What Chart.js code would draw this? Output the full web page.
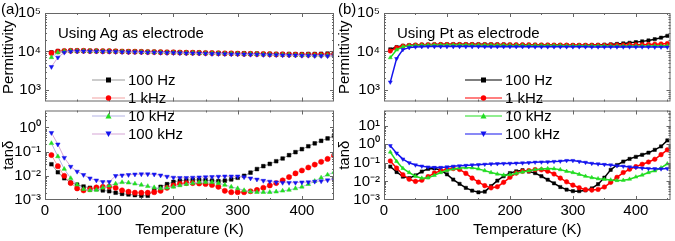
<!DOCTYPE html>
<html>
<head>
<meta charset="utf-8">
<script src="https://cdn.jsdelivr.net/npm/chart.js@4.4.0/dist/chart.umd.min.js"></script>
<style>
body { margin: 0; width: 675px; height: 241px; position: relative; overflow: hidden; background: #fff;
       font-family: Arial, "Liberation Sans", sans-serif; }
.box { position: absolute; }
.txt { position: absolute; font-size: 15px; line-height: 17px; color: #000; white-space: nowrap; }
.leg { position: absolute; height: 17px; display: flex; align-items: center; font-size: 15px; color: #000; white-space: nowrap; z-index: 5; }
.leg svg { margin-right: 3px; }
</style>
</head>
<body>
<div class="box" style="left:0;top:0;width:340px;height:106px"><canvas id="aTop"></canvas></div>
<div class="box" style="left:0;top:106px;width:340px;height:135px"><canvas id="aBot"></canvas></div>
<div class="box" style="left:336px;top:0;width:339px;height:106px"><canvas id="bTop"></canvas></div>
<div class="box" style="left:336px;top:106px;width:339px;height:135px"><canvas id="bBot"></canvas></div>

<div class="txt" style="left:1px;top:0px">(a)</div>
<div class="txt" style="left:338px;top:0px">(b)</div>
<div class="txt" style="left:58px;top:24px">Using Ag as electrode</div>
<div class="txt" style="left:397px;top:24px">Using Pt as electrode</div>
<div id="legA"></div>
<div id="legB"></div>

<script>
// temperatures (K)
const temps = [10, 20, 30, 40, 50, 60, 70, 80, 90, 100, 110, 120, 130, 140, 150, 160, 170, 180, 190, 200,
  210, 220, 230, 240, 250, 260, 270, 280, 290, 300, 310, 320, 330, 340, 350, 360, 370, 380, 390, 400,
  410, 420, 430, 440, 450];
const freqs = ["100 Hz", "1 kHz", "10 kHz", "100 kHz"];
const permTicks = [1e3, 1e4, 1e5];
const tanTicksA = [1e-3, 1e-2, 1e-1, 1];
const tanTicksB = [1e-3, 1e-2, 1e-1, 1, 10];
const xTicks = [0, 100, 200, 300, 400];

// (a) Ag electrode - permittivity
const epsA_100Hz = [9500, 10200, 10400, 10500, 10500, 10500, 10400, 10400, 10300, 10300, 10200, 10100, 10000, 10000, 9900,
  9800, 9800, 9700, 9600, 9600, 9500, 9400, 9400, 9300, 9200, 9200, 9100, 9000, 9000, 8900, 8900, 8800, 8800, 8700, 8700,
  8600, 8600, 8600, 8500, 8500, 8600, 8600, 8700, 8800, 9000];
const epsA_1kHz = [9100, 10000, 10300, 10400, 10400, 10400, 10300, 10300, 10200, 10200, 10100, 10000, 9900, 9900, 9800,
  9700, 9700, 9600, 9500, 9500, 9400, 9300, 9300, 9200, 9100, 9100, 9000, 8900, 8900, 8800, 8700, 8700, 8600, 8600, 8500,
  8400, 8400, 8300, 8300, 8200, 8200, 8200, 8200, 8200, 8300];
const epsA_10kHz = [7000, 9400, 10100, 10300, 10300, 10300, 10200, 10200, 10100, 10100, 10000, 9900, 9800, 9800, 9700,
  9600, 9600, 9500, 9400, 9400, 9300, 9200, 9200, 9100, 9000, 9000, 8900, 8800, 8800, 8700, 8600, 8600, 8500, 8400, 8400,
  8300, 8200, 8200, 8100, 8000, 8000, 7900, 7900, 7900, 7900];
const epsA_100kHz = [4000, 7000, 9400, 10000, 10100, 10100, 10000, 10000, 9900, 9900, 9800, 9700, 9600, 9600, 9500,
  9400, 9400, 9300, 9200, 9200, 9100, 9000, 9000, 8900, 8800, 8700, 8700, 8600, 8500, 8500, 8400, 8300, 8300, 8200, 8100,
  8100, 8000, 7900, 7900, 7800, 7800, 7700, 7700, 7600, 7600];

// (a) Ag electrode - loss tangent
const tanA_100Hz = [0.030, 0.014, 0.0079, 0.0052, 0.0043, 0.0036, 0.0032, 0.0028, 0.0025, 0.0023, 0.0020, 0.0018, 0.0017,
  0.0016, 0.0015, 0.0015, 0.0025, 0.0035, 0.0045, 0.0056, 0.0063, 0.0066, 0.0068, 0.0068, 0.0066, 0.0063, 0.0060, 0.0063,
  0.0071, 0.0083, 0.010, 0.0135, 0.019, 0.025, 0.031, 0.040, 0.052, 0.071, 0.095, 0.126, 0.166, 0.22, 0.28, 0.35, 0.44];
const tanA_1kHz = [0.072, 0.025, 0.010, 0.0050, 0.0030, 0.0025, 0.0028, 0.0033, 0.0035, 0.0036, 0.0032, 0.0025, 0.0022,
  0.0020, 0.0020, 0.0020, 0.0021, 0.0024, 0.0032, 0.0040, 0.0047, 0.0050, 0.0050, 0.0048, 0.0046, 0.0042, 0.0035, 0.0024,
  0.0021, 0.0021, 0.0021, 0.0023, 0.0026, 0.0032, 0.0040, 0.0050, 0.0065, 0.0089, 0.0126, 0.0166, 0.022, 0.029, 0.038,
  0.050, 0.069];
const tanA_10kHz = [0.22, 0.063, 0.019, 0.0079, 0.0043, 0.0028, 0.0025, 0.0026, 0.0032, 0.0039, 0.0047, 0.0054, 0.0052,
  0.0047, 0.0042, 0.0037, 0.0033, 0.0030, 0.0032, 0.0035, 0.0040, 0.0045, 0.0050, 0.0054, 0.0055, 0.0054, 0.0050, 0.0042,
  0.0035, 0.0030, 0.0025, 0.0022, 0.0021, 0.0021, 0.0021, 0.0022, 0.0024, 0.0026, 0.0030, 0.0035, 0.0045, 0.0060, 0.0083,
  0.011, 0.014];
const tanA_100kHz = [0.60, 0.20, 0.056, 0.024, 0.015, 0.011, 0.0079, 0.0065, 0.0056, 0.0056, 0.010, 0.0105, 0.011, 0.0115,
  0.0117, 0.0117, 0.0115, 0.0105, 0.0093, 0.0085, 0.0083, 0.0083, 0.0085, 0.0087, 0.0089, 0.0091, 0.0093, 0.0095, 0.0095,
  0.0095, 0.0089, 0.0079, 0.0071, 0.0063, 0.0058, 0.0054, 0.0052, 0.0052, 0.0052, 0.0054, 0.0055, 0.0058, 0.0060, 0.0066,
  0.0071];

// (b) Pt electrode - permittivity
const epsB_100Hz = [11400, 13000, 14000, 14500, 14800, 15000, 15100, 15200, 15300, 15300, 15400, 15400, 15400, 15400, 15400,
  15300, 15300, 15200, 15200, 15100, 15000, 15000, 14900, 14900, 14800, 14800, 14700, 14700, 14600, 14600, 14600, 14600,
  14700, 14800, 15000, 15300, 15700, 16200, 16800, 17500, 18300, 19300, 20800, 22800, 25500];
const epsB_1kHz = [10300, 12500, 13800, 14300, 14600, 14800, 14900, 15000, 15100, 15100, 15100, 15100, 15100, 15100, 15000,
  15000, 15000, 14900, 14900, 14900, 14800, 14800, 14800, 14700, 14700, 14700, 14600, 14600, 14600, 14500, 14500, 14500,
  14500, 14500, 14500, 14600, 14600, 14700, 14800, 14900, 15000, 15200, 15400, 15700, 16000];
const epsB_10kHz = [6900, 11000, 13300, 14000, 14300, 14500, 14600, 14700, 14700, 14700, 14700, 14700, 14700, 14600, 14600,
  14600, 14500, 14500, 14500, 14400, 14400, 14400, 14300, 14300, 14300, 14200, 14200, 14200, 14100, 14100, 14100, 14000,
  14000, 14000, 14000, 13900, 13900, 13900, 13900, 13900, 13900, 13900, 14000, 14000, 14100];
const epsB_100kHz = [1600, 6500, 11200, 12600, 13100, 13300, 13400, 13400, 13400, 13400, 13400, 13400, 13400, 13400, 13400,
  13300, 13300, 13300, 13300, 13300, 13300, 13300, 13300, 13200, 13200, 13200, 13200, 13200, 13200, 13200, 13200, 13200,
  13100, 13100, 13100, 13100, 13100, 13100, 13100, 13100, 13100, 13100, 13000, 13000, 13000];

// (b) Pt electrode - loss tangent
const tanB_100Hz = [0.063, 0.032, 0.018, 0.015, 0.021, 0.034, 0.047, 0.050, 0.041, 0.024, 0.0126, 0.0074, 0.0045, 0.0032,
  0.0026, 0.0028, 0.0056, 0.011, 0.019, 0.028, 0.035, 0.040, 0.034, 0.028, 0.019, 0.0123, 0.0079, 0.0050, 0.0036, 0.0030,
  0.0030, 0.0033, 0.0042, 0.0071, 0.016, 0.042, 0.076, 0.117, 0.162, 0.21, 0.27, 0.35, 0.50, 0.76, 1.6];
const tanB_1kHz = [0.126, 0.052, 0.023, 0.013, 0.010, 0.0115, 0.018, 0.028, 0.037, 0.045, 0.049, 0.044, 0.027, 0.015,
  0.0091, 0.0059, 0.0045, 0.0052, 0.0089, 0.0166, 0.028, 0.035, 0.038, 0.043, 0.042, 0.035, 0.025, 0.015, 0.0095, 0.0063,
  0.0046, 0.0036, 0.0034, 0.0037, 0.0050, 0.0089, 0.0166, 0.030, 0.045, 0.062, 0.083, 0.11, 0.155, 0.275, 0.50];
const tanB_10kHz = [0.38, 0.12, 0.050, 0.030, 0.019, 0.015, 0.0155, 0.021, 0.030, 0.039, 0.047, 0.052, 0.055, 0.054, 0.047,
  0.038, 0.030, 0.025, 0.022, 0.023, 0.027, 0.032, 0.037, 0.043, 0.047, 0.049, 0.048, 0.043, 0.035, 0.030, 0.024, 0.019,
  0.016, 0.014, 0.0129, 0.012, 0.0112, 0.0115, 0.0132, 0.0174, 0.022, 0.030, 0.037, 0.054, 0.089];
const tanB_100kHz = [0.83, 0.33, 0.158, 0.10, 0.076, 0.066, 0.059, 0.056, 0.056, 0.060, 0.065, 0.069, 0.072, 0.076, 0.079,
  0.083, 0.087, 0.089, 0.091, 0.093, 0.095, 0.098, 0.102, 0.107, 0.11, 0.112, 0.117, 0.123, 0.132, 0.132, 0.117, 0.105,
  0.093, 0.087, 0.081, 0.076, 0.069, 0.065, 0.060, 0.056, 0.052, 0.049, 0.048, 0.047, 0.049];

const markerColors = ["#000000", "#ff0000", "#22dd22", "#1414ee"];
const faintLines = ["#9a9a9a", "#f2a2a2", "#b4b4e6", "#d6a6d6"];
const pointStyles = ["rect", "circle", "triangle", "triangle"];
const pointRot = [0, 0, 0, 180];
const fontFam = 'Arial, "Liberation Sans", sans-serif';
const sup = { "-": "\u207B", "0": "\u2070", "1": "\u00B9", "2": "\u00B2", "3": "\u00B3", "4": "\u2074", "5": "\u2075" };

function powLabel(v) {
  const e = String(Math.round(Math.log10(v)));
  return "10" + e.split("").map(c => sup[c]).join("");
}

// box + inward ticks like the original plot
const framePlugin = {
  id: "frame",
  afterDatasetsDraw(chart) {
    const { ctx, chartArea: a, scales } = chart;
    const xs = scales.x, ys = scales.y;
    ctx.save();
    ctx.strokeStyle = "#666";
    ctx.lineWidth = 1;
    ctx.strokeRect(a.left + 0.5, a.top + 0.5, a.right - a.left - 1, a.bottom - a.top - 1);
    ctx.beginPath();
    for (let v = 50; v < xs.max; v += 50) {
      const px = Math.round(xs.getPixelForValue(v)) + 0.5;
      const len = v % 100 === 0 ? 4 : 2;
      ctx.moveTo(px, a.bottom); ctx.lineTo(px, a.bottom - len);
      ctx.moveTo(px, a.top); ctx.lineTo(px, a.top + len);
    }
    const d0 = Math.floor(Math.log10(ys.min)), d1 = Math.ceil(Math.log10(ys.max));
    for (let d = d0; d <= d1; d++) {
      for (let m = 1; m < 10; m++) {
        const v = m * Math.pow(10, d);
        if (v <= ys.min || v >= ys.max) continue;
        const py = Math.round(ys.getPixelForValue(v)) + 0.5;
        const len = m === 1 ? 4 : 2;
        ctx.moveTo(a.left, py); ctx.lineTo(a.left + len, py);
        ctx.moveTo(a.right, py); ctx.lineTo(a.right - len, py);
      }
    }
    ctx.stroke();
    ctx.restore();
  }
};

function makeChart(id, seriesList, opt) {
  const datasets = seriesList.map((vals, i) => ({
    label: freqs[i],
    data: temps.map((t, k) => ({ x: t, y: vals[k] })),
    order: 3 - i, // 100 kHz drawn last, on top
    borderColor: opt.faint ? faintLines[i] : markerColors[i],
    borderWidth: opt.faint ? 1 : 1.5,
    backgroundColor: markerColors[i],
    pointBackgroundColor: markerColors[i],
    pointBorderColor: markerColors[i],
    pointBorderWidth: 0.5,
    pointStyle: pointStyles[i],
    rotation: pointRot[i],
    pointRadius: opt.faint ? 2.6 : 2.3,
    tension: 0,
  }));
  return new Chart(document.getElementById(id), {
    type: "line",
    data: { datasets: datasets },
    options: {
      responsive: true,
      maintainAspectRatio: false,
      animation: false,
      layout: { padding: { top: opt.padTop, right: opt.padRight, left: 0, bottom: 0 } },
      plugins: { legend: { display: false }, tooltip: { enabled: false } },
      scales: {
        x: {
          type: "linear",
          min: 0,
          max: opt.xMax,
          display: opt.showX,
          grid: { display: false, drawTicks: false },
          border: { display: false },
          afterBuildTicks: (s) => { s.ticks = xTicks.map(v => ({ value: v })); },
          afterFit: (s) => {
            s.paddingLeft = 0; s.paddingRight = 0;
            if (opt.showX) s.height = 41;
          },
          ticks: { color: "#000", padding: 2, maxRotation: 0, font: { family: fontFam, size: 15 } },
          title: {
            display: true,
            text: "Temperature (K)",
            color: "#000",
            padding: { top: 0, bottom: 2 },
            font: { family: fontFam, size: 15 },
          },
        },
        y: {
          type: "logarithmic",
          min: opt.yMin,
          max: opt.yMax,
          grid: { display: false, drawTicks: false },
          border: { display: false },
          afterBuildTicks: (s) => { s.ticks = opt.yTicks.map(v => ({ value: v })); },
          afterFit: (s) => { s.width = opt.yWidth; s.paddingTop = 0; s.paddingBottom = 0; },
          ticks: { color: "#000", padding: 4, font: { family: fontFam, size: 15 }, callback: (v) => powLabel(v) },
          title: {
            display: true,
            text: opt.yTitle,
            color: "#000",
            padding: { top: 0, bottom: 0 },
            font: { family: fontFam, size: 15 },
          },
        },
      },
    },
    plugins: [framePlugin],
  });
}

makeChart("aTop", [epsA_100Hz, epsA_1kHz, epsA_10kHz, epsA_100kHz],
  { faint: true, padTop: 13, padRight: 6, xMax: 450, showX: false, yMin: 501, yMax: 1e5, yTicks: permTicks, yWidth: 45, yTitle: "Permittivity" });
makeChart("aBot", [tanA_100Hz, tanA_1kHz, tanA_10kHz, tanA_100kHz],
  { faint: true, padTop: 0, padRight: 6, xMax: 450, showX: true, yMin: 1e-3, yMax: 5, yTicks: tanTicksA, yWidth: 45, yTitle: "tan\u03B4" });
makeChart("bTop", [epsB_100Hz, epsB_1kHz, epsB_10kHz, epsB_100kHz],
  { faint: false, padTop: 13, padRight: 4, xMax: 455, showX: false, yMin: 501, yMax: 1e5, yTicks: permTicks, yWidth: 48, yTitle: "Permittivity" });
makeChart("bBot", [tanB_100Hz, tanB_1kHz, tanB_10kHz, tanB_100kHz],
  { faint: false, padTop: 0, padRight: 4, xMax: 455, showX: true, yMin: 1e-3, yMax: 65, yTicks: tanTicksB, yWidth: 48, yTitle: "tan\u03B4" });

// legends (straddle the two stacked plots, as in the original)
function markerSvg(i, lineColor, w) {
  const c = markerColors[i], cx = w / 2, cy = 5;
  let m;
  if (i === 0) m = `<rect x="${cx - 2.5}" y="${cy - 2.5}" width="5" height="5" fill="${c}"/>`;
  else if (i === 1) m = `<circle cx="${cx}" cy="${cy}" r="2.7" fill="${c}"/>`;
  else if (i === 2) m = `<polygon points="${cx},${cy - 3} ${cx - 3},${cy + 2.5} ${cx + 3},${cy + 2.5}" fill="${c}"/>`;
  else m = `<polygon points="${cx},${cy + 3} ${cx - 3},${cy - 2.5} ${cx + 3},${cy - 2.5}" fill="${c}"/>`;
  return `<svg width="${w}" height="10"><line x1="0" y1="5" x2="${w}" y2="5" stroke="${lineColor}" stroke-width="1.2"/>${m}</svg>`;
}
function buildLegend(elId, left, faint, w) {
  const rows = [71, 89, 107, 125];
  document.getElementById(elId).innerHTML = freqs.map((f, i) =>
    `<div class="leg" style="left:${left}px;top:${rows[i]}px">${markerSvg(i, faint ? faintLines[i] : markerColors[i], w)}<span>${f}</span></div>`
  ).join("");
}
buildLegend("legA", 92, true, 33);
buildLegend("legB", 465, false, 37);
</script>
</body>
</html>
